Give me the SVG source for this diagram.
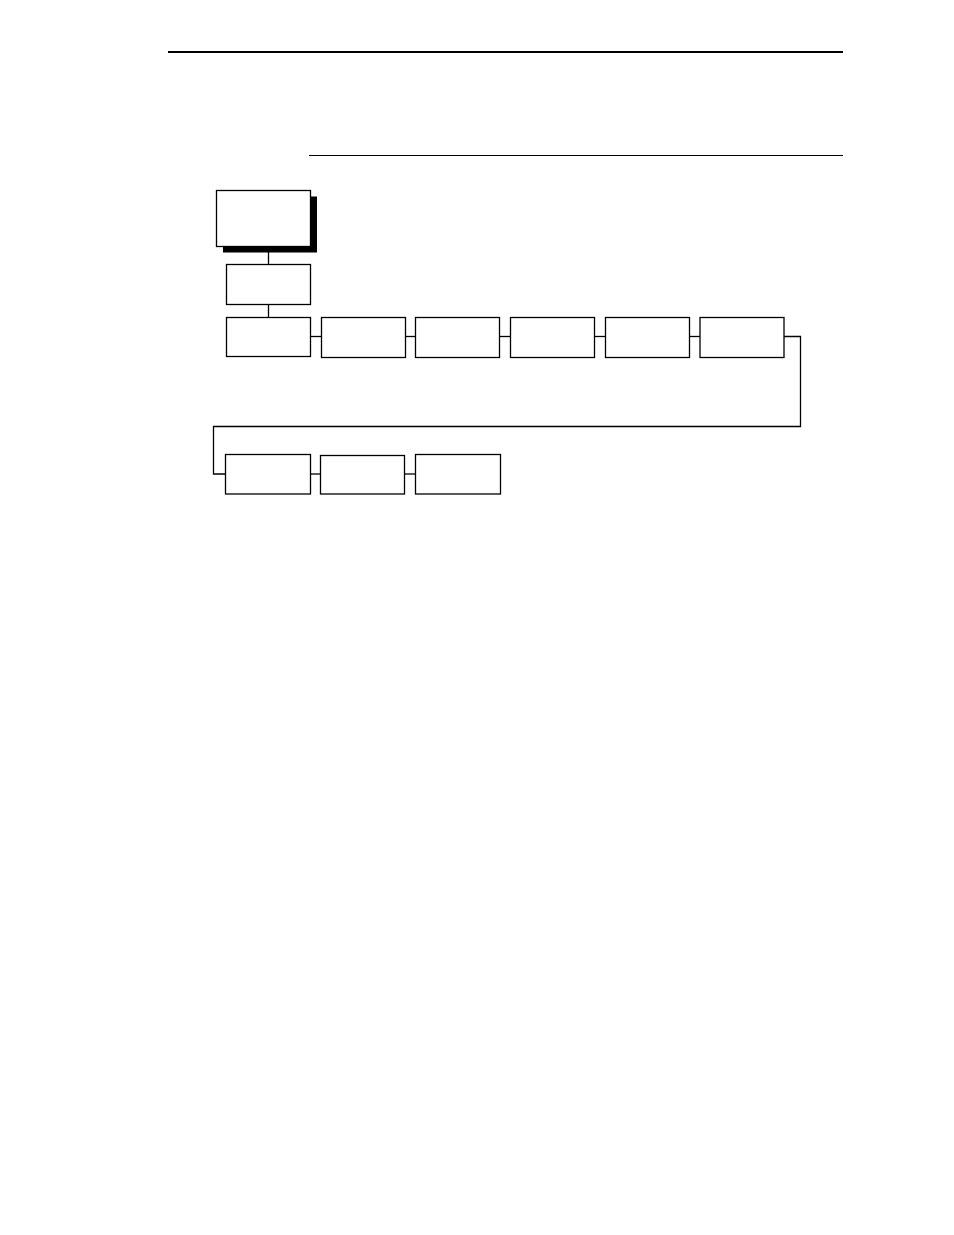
<svg xmlns="http://www.w3.org/2000/svg" width="954" height="1235" viewBox="0 0 954 1235">
<style>
.box{fill:#fff;stroke:#000;stroke-width:1.3}
.shadow{fill:#000}
.conn{fill:none;stroke:#000;stroke-width:1.3}
.rule{stroke:#000}
</style>
<rect width="954" height="1235" fill="#fff"/>
<line class="rule" x1="168" y1="52" x2="843" y2="52" stroke-width="2.2"/>
<line class="rule" x1="309" y1="155.5" x2="843" y2="155.5" stroke-width="1.2"/>
<g id="connectors">
<path class="conn" d="M268.5 252 V264.5"/>
<path class="conn" d="M268.5 304.5 V317.5"/>
<path class="conn" d="M310.5 336.5 H321.5"/>
<path class="conn" d="M405.5 336.5 H415.5"/>
<path class="conn" d="M499.5 336.5 H510.5"/>
<path class="conn" d="M594.5 336.5 H605.5"/>
<path class="conn" d="M689.5 336.5 H700"/>
<path class="conn" d="M784 336.5 H800.5 V426.5 H213.5 V474 H225.5"/>
<path class="conn" d="M310.5 474 H320.5"/>
<path class="conn" d="M404.5 474 H415.5"/>
</g>
<g id="node-top">
<rect class="shadow" x="223" y="196.5" width="94" height="56"/>
<rect class="box" x="216.5" y="190.5" width="94" height="56"/>
</g>
<g id="node-2"><rect class="box" x="226.5" y="264.5" width="84" height="40"/></g>
<g id="node-r1-1"><rect class="box" x="226.5" y="317.5" width="84" height="39"/></g>
<g id="node-r1-2"><rect class="box" x="321.5" y="317.5" width="84" height="40"/></g>
<g id="node-r1-3"><rect class="box" x="415.5" y="317.5" width="84" height="40"/></g>
<g id="node-r1-4"><rect class="box" x="510.5" y="317.5" width="84" height="40"/></g>
<g id="node-r1-5"><rect class="box" x="605.5" y="317.5" width="84" height="40"/></g>
<g id="node-r1-6"><rect class="box" x="700" y="317.5" width="84" height="40"/></g>
<g id="node-r2-1"><rect class="box" x="225.5" y="454.5" width="85" height="39.5"/></g>
<g id="node-r2-2"><rect class="box" x="320.5" y="455.5" width="84" height="38.5"/></g>
<g id="node-r2-3"><rect class="box" x="415.5" y="454.5" width="85" height="39.5"/></g>
</svg>
